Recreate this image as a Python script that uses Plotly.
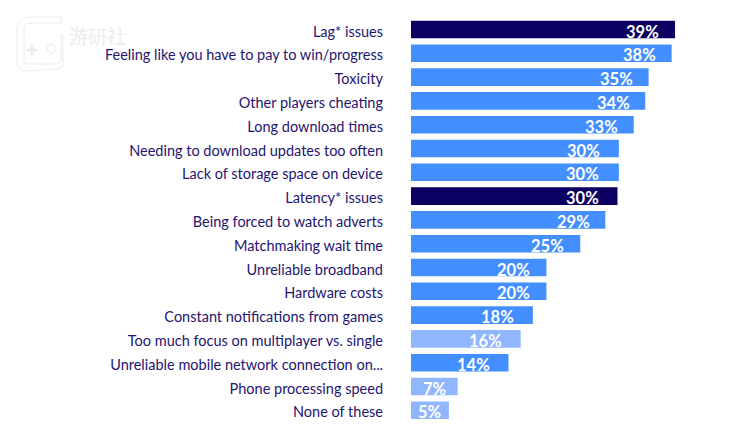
import plotly.graph_objects as go

NAVY = '#0b0062'
BLUE = '#448fff'
LIGHT = '#8fb6ff'
WM = '#ececec'

# The page puts the figure 8px in from the top left corner of the window
PAGE_OFFSET = 8
WIDTH = 750 - PAGE_OFFSET
HEIGHT = 432 - PAGE_OFFSET
BARS_LEFT = 411 - PAGE_OFFSET
PX_PER_UNIT = 6.77
ROW_PX = 23.8
FIRST_ROW_PX = 29.5 - PAGE_OFFSET

# label, bar length, printed value, centre of printed value (axis units), colour
rows = [
    ('Lag* issues', 39.0, '39%', 34.2, NAVY),
    ('Feeling like you have to pay to win/progress', 38.5, '38%', 33.8, BLUE),
    ('Toxicity', 35.1, '35%', 30.4, BLUE),
    ('Other players cheating', 34.6, '34%', 29.9, BLUE),
    ('Long download times', 32.9, '33%', 28.1, BLUE),
    ('Needing to download updates too often', 30.7, '30%', 25.5, BLUE),
    ('Lack of storage space on device', 30.7, '30%', 25.4, BLUE),
    ('Latency* issues', 30.5, '30%', 25.3, NAVY),
    ('Being forced to watch adverts', 28.7, '29%', 24.0, BLUE),
    ('Matchmaking wait time', 25.0, '25%', 20.2, BLUE),
    ('Unreliable broadband', 20.0, '20%', 15.1, BLUE),
    ('Hardware costs', 20.0, '20%', 15.1, BLUE),
    ('Constant notifications from games', 18.0, '18%', 12.8, BLUE),
    ('Too much focus on multiplayer vs. single', 16.2, '16%', 11.0, LIGHT),
    ('Unreliable mobile network connection on...', 14.4, '14%', 9.3, BLUE),
    ('Phone processing speed', 6.9, '7%', 3.5, LIGHT),
    ('None of these', 5.6, '5%', 2.8, LIGHT),
]

labels = [r[0] for r in rows]


def paper_x(px):
    return (px - PAGE_OFFSET) / WIDTH


def paper_y(px):
    return 1 - (px - PAGE_OFFSET) / HEIGHT


fig = go.Figure()
fig.add_trace(go.Bar(
    x=[r[1] for r in rows],
    y=labels,
    orientation='h',
    width=0.74,
    marker=dict(color=[r[4] for r in rows], line=dict(width=0)),
    showlegend=False,
    hoverinfo='skip',
))

# Printed values sit a little below the middle of each bar
annotations = [
    dict(x=r[3], y=r[0], text=r[2], showarrow=False, yshift=-2,
         xanchor='center', yanchor='middle',
         font=dict(family='Lato', size=16.5, color='white', weight='bold'))
    for r in rows
]

# Faint site watermark in the top left corner
annotations.append(dict(
    text='游研社', xref='paper', yref='paper', x=paper_x(67), y=paper_y(36),
    xanchor='left', yanchor='middle', showarrow=False,
    font=dict(family='Noto Sans CJK SC', size=19, color=WM),
))

frame = [
    ('M', 30, 17), ('L', 62, 17), ('L', 62, 23), ('L', 30, 23), ('Q', 24, 23), ('', 24, 30),
    ('L', 24, 60), ('Q', 24, 64), ('', 30, 64), ('L', 56, 64), ('Q', 61, 64), ('', 61, 58),
    ('L', 61, 34), ('L', 63, 34), ('L', 63, 62), ('Q', 63, 69), ('', 56, 69), ('L', 26, 71),
    ('Q', 18, 71), ('', 17, 62), ('L', 17, 30), ('Q', 17, 18), ('', 30, 17),
]
frame_path = ' '.join(f'{c} {paper_x(x):.4f} {paper_y(y):.4f}' for c, x, y in frame) + ' Z'
shapes = [
    dict(type='path', path=frame_path, line=dict(color=WM, width=1), fillcolor='white'),
    dict(type='circle', x0=paper_x(47), x1=paper_x(56), y0=paper_y(53), y1=paper_y(44),
         line=dict(color=WM, width=1)),
    dict(type='line', x0=paper_x(27), x1=paper_x(37), y0=paper_y(50), y1=paper_y(50),
         line=dict(color=WM, width=3)),
    dict(type='line', x0=paper_x(32), x1=paper_x(32), y0=paper_y(45), y1=paper_y(55),
         line=dict(color=WM, width=3)),
]
for s in shapes:
    s.update(xref='paper', yref='paper', layer='below')

fig.update_layout(
    width=WIDTH,
    height=HEIGHT,
    margin=dict(l=0, r=0, t=0, b=0),
    paper_bgcolor='white',
    plot_bgcolor='white',
    xaxis=dict(
        domain=[BARS_LEFT / WIDTH, 1],
        range=[0, (WIDTH - BARS_LEFT) / PX_PER_UNIT],
        visible=False,
    ),
    yaxis=dict(
        categoryorder='array',
        categoryarray=labels,
        range=[(HEIGHT - FIRST_ROW_PX) / ROW_PX, -FIRST_ROW_PX / ROW_PX],
        showgrid=False,
        zeroline=False,
        showline=False,
        ticks='',
        ticklabelstandoff=27,
        ticklabelshift=-2,
        tickfont=dict(family='Lato', size=14.5, color='#1f1470'),
    ),
    annotations=annotations,
    shapes=shapes,
)

fig.write_html('out.html', config=dict(displayModeBar=False))
